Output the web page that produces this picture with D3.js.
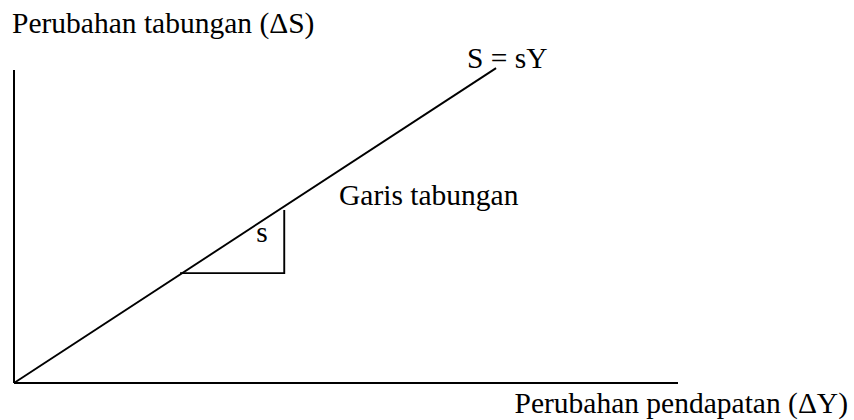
<!DOCTYPE html>
<html>
<head>
<meta charset="utf-8">
<script src="https://cdn.jsdelivr.net/npm/d3@7"></script>
<style>
	html, body { margin: 0; padding: 0; background: #fff; }
	text { font-family: "Liberation Serif", "Times New Roman", serif; fill: #000; }
</style>
</head>
<body>
<div id="container"></div>
<script>
// 1. Data (in abstract units, 0-100 on each axis)
const xDomain = [0, 100]
const yDomain = [0, 100]
// saving line S = sY, from origin
const savingLine = [
	{ x: 0, y: 0 },
	{ x: 72.6, y: 100.6 },
]
// slope triangle under the line
const slopeTriangle = [
	{ x: 25.0, y: 35.1 },
	{ x: 40.7, y: 35.1 },
	{ x: 40.7, y: 55.3 },
]
const labels = {
	yAxis: "Perubahan tabungan (ΔS)",
	xAxis: "Perubahan pendapatan (ΔY)",
	line: "S = sY",
	lineName: "Garis tabungan",
	slope: "s",
}

// 2. Dimensions
const width = 854
const height = 420
const margin = { top: 70, right: 176, bottom: 37, left: 14 }

// 3. Canvas
const svg = d3.select("#container")
	.append("svg")
	.attr("width", width)
	.attr("height", height)

// 4. Scales
const x = d3.scaleLinear()
	.domain(xDomain)
	.range([margin.left, width - margin.right])

const y = d3.scaleLinear()
	.domain(yDomain)
	.range([height - margin.bottom, margin.top])

// 5. Draw data
const lineGen = d3.line()
	.x(d => x(d.x))
	.y(d => y(d.y))

svg.append("path")
	.datum(savingLine)
	.attr("d", lineGen)
	.attr("fill", "none")
	.attr("stroke", "#000")
	.attr("stroke-width", 1.9)

svg.append("path")
	.datum(slopeTriangle)
	.attr("d", lineGen)
	.attr("fill", "none")
	.attr("stroke", "#000")
	.attr("stroke-width", 1.9)

// 6. Peripherals (axes drawn as plain lines, no ticks)
svg.append("line")
	.attr("x1", x(0)).attr("x2", x(0))
	.attr("y1", y(0)).attr("y2", y(100))
	.attr("stroke", "#000")
	.attr("stroke-width", 2)

svg.append("line")
	.attr("x1", x(0)).attr("x2", x(100))
	.attr("y1", y(0)).attr("y2", y(0))
	.attr("stroke", "#000")
	.attr("stroke-width", 2)

const fontSize = 29.5

svg.append("text")
	.attr("x", 12)
	.attr("y", 33)
	.style("font-size", fontSize + "px")
	.text(labels.yAxis)

svg.append("text")
	.attr("x", 848)
	.attr("y", 413)
	.attr("text-anchor", "end")
	.style("font-size", fontSize + "px")
	.text(labels.xAxis)

svg.append("text")
	.attr("x", 467)
	.attr("y", 68)
	.style("font-size", fontSize + "px")
	.text(labels.line)

svg.append("text")
	.attr("x", 339)
	.attr("y", 205)
	.style("font-size", fontSize + "px")
	.text(labels.lineName)

svg.append("text")
	.attr("x", 262)
	.attr("y", 242)
	.attr("text-anchor", "middle")
	.style("font-size", fontSize + "px")
	.text(labels.slope)
</script>
</body>
</html>
